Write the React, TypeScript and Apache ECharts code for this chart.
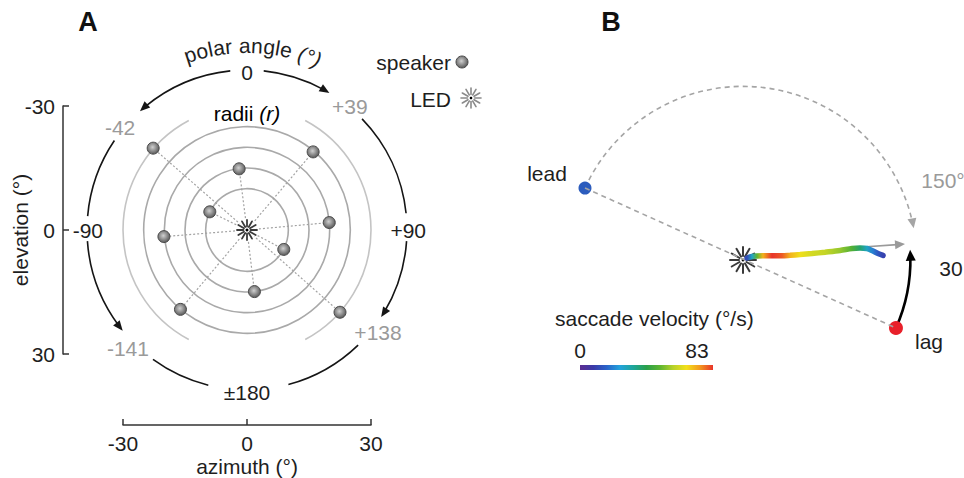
import React, { useEffect, useRef } from 'react';
import * as echarts from 'echarts';

const FONT = '"Liberation Sans", Arial, Helvetica, sans-serif';
const FS = 21;
const INK = '#1e1e1e';
const GRAY_TXT = '#9a9a9a';

// ---------- Panel A data (azimuth / elevation, degrees) ----------
const AXIS_MIN = -30;
const AXIS_MAX = 30;
const AXIS_INTERVAL = 30;
const RING_RADII = [10, 15, 20, 25];
const OUTER_RING_RADIUS = 30;
const OUTER_RING_FROM = [28, 208];
const OUTER_RING_TO = [152, 332];
const SPEAKER_AZ = [-22.7, 16.0, -1.9, -9.0, 19.9, -20.1, 8.9, 1.8, -16.1, 22.5];
const SPEAKER_EL = [-19.8, -18.9, -14.8, -4.4, -1.8, 1.6, 4.7, 14.9, 19.2, 19.9];
const LED_A = [0, 0];

const POLAR_LABELS = ['0', '+39', '+90', '+138', '±180', '-141', '-90', '-42'];
const POLAR_LABEL_AZ = [0, 24.9, 39.0, 31.7, 0, -28.8, -38.5, -30.7];
const POLAR_LABEL_EL = [-38.0, -29.8, 0, 24.9, 39.4, 28.6, 0, -24.7];
const POLAR_LABEL_GRAY = [false, true, false, true, false, true, false, true];

const POLAR_ARC_RADIUS = 38.7;
const POLAR_ARC_FROM = [-6, 6, 46, -56, -94, 94, -144, 136];
const POLAR_ARC_TO = [-42, 31, 84, -85, -129, 123, -166, 165];
const POLAR_ARC_ARROW = [1, 1, 0, 0, 1, 1, 0, 0];

// ---------- Panel B data ----------
const LED_B = [0, 0];
const LEAD = [-18.81, 8.57];
const LAG = [18.21, -8.1];
const LEAD_SWEEP = -145; // degrees, counter-clockwise positive
const LAG_SWEEP = 27.5;
const SACCADE_ARROW = [14.29, 1.55, 19.29, 1.9];
const TRAJ_X = [0.48, 1.07, 1.67, 2.38, 3.45, 4.64, 5.6, 6.79, 8.21, 9.76, 11.55, 12.98, 13.93, 14.76, 15.48, 16.07, 16.67];
const TRAJ_Y = [0.24, 0.42, 0.48, 0.5, 0.5, 0.5, 0.56, 0.65, 0.77, 0.93, 1.13, 1.37, 1.43, 1.37, 1.07, 0.77, 0.54];
const TRAJ_VEL = [12, 28, 50, 72, 83, 80, 72, 66, 62, 60, 55, 48, 38, 28, 20, 14, 10];
const VEL_MIN = 0;
const VEL_MAX = 83;
const RAINBOW = ['#5c2d91', '#3a3aa8', '#2a63c9', '#23a3dc', '#1ea69a', '#2aa04a', '#5cb531', '#b7d22a', '#f3e01a', '#f39a1e', '#e8342a'];

function hexToRgb(h: string) {
  const n = parseInt(h.slice(1), 16);
  return [(n >> 16) & 255, (n >> 8) & 255, n & 255];
}
function rainbowAt(v: number) {
  const t = Math.max(0, Math.min(1, (v - VEL_MIN) / (VEL_MAX - VEL_MIN)));
  const p = t * (RAINBOW.length - 1);
  const i = Math.min(Math.floor(p), RAINBOW.length - 2);
  const f = p - i;
  const a = hexToRgb(RAINBOW[i]);
  const b = hexToRgb(RAINBOW[i + 1]);
  const c = a.map((x, k) => Math.round(x + (b[k] - x) * f));
  return `rgb(${c[0]},${c[1]},${c[2]})`;
}

function ballGradient() {
  return {
    type: 'radial', x: 0.45, y: 0.42, r: 0.6,
    colorStops: [
      { offset: 0, color: '#d0d0d0' },
      { offset: 0.5, color: '#929292' },
      { offset: 1, color: '#555555' },
    ],
  };
}

function starChildren(cx: number, cy: number, rIn: number, rOut: number, color: string, lw: number, dot: number) {
  const ch: any[] = [];
  for (let k = 0; k < 12; k++) {
    const a = (k * Math.PI) / 6;
    ch.push({
      type: 'line',
      shape: { x1: cx + rIn * Math.cos(a), y1: cy + rIn * Math.sin(a), x2: cx + rOut * Math.cos(a), y2: cy + rOut * Math.sin(a) },
      style: { stroke: color, lineWidth: lw, lineCap: 'round' },
    });
  }
  ch.push({ type: 'circle', shape: { cx, cy, r: dot }, style: { fill: '#000' } });
  return ch;
}

function arcWithArrow(cx: number, cy: number, r: number, a1: number, a2: number, color: string, lw: number, dash: number[] | null, arrow: { len: number; w: number } | null) {
  const cw = a2 > a1;
  const ch: any[] = [];
  let aEnd = a2;
  if (arrow) aEnd = a2 + (cw ? -1 : 1) * (arrow.len * 0.6) / r;
  ch.push({
    type: 'arc',
    shape: { cx, cy, r, startAngle: a1, endAngle: aEnd, clockwise: cw },
    style: { stroke: color, lineWidth: lw, fill: null, lineDash: dash || undefined },
  });
  if (arrow) {
    const tx = cx + r * Math.cos(a2);
    const ty = cy + r * Math.sin(a2);
    let dx = -Math.sin(a2);
    let dy = Math.cos(a2);
    if (!cw) { dx = -dx; dy = -dy; }
    const bx = tx - dx * arrow.len;
    const by = ty - dy * arrow.len;
    const nx = -dy;
    const ny = dx;
    ch.push({
      type: 'polygon',
      shape: { points: [[tx, ty], [bx + nx * arrow.w, by + ny * arrow.w], [bx - nx * arrow.w, by - ny * arrow.w]] },
      style: { fill: color },
    });
  }
  return ch;
}

function curvedText(cx: number, cy: number, R: number, centerDeg: number, parts: { text: string; italic: boolean }[], size: number, color: string) {
  const ctx = document.createElement('canvas').getContext('2d') as CanvasRenderingContext2D;
  const chars: { ch: string; italic: boolean; w: number }[] = [];
  parts.forEach((p) => {
    ctx.font = `${p.italic ? 'italic ' : ''}${size}px ${FONT}`;
    for (const ch of p.text) chars.push({ ch, italic: p.italic, w: ctx.measureText(ch).width });
  });
  const total = chars.reduce((s, c) => s + c.w, 0);
  let s = -total / 2;
  return chars.map((c) => {
    const mid = s + c.w / 2;
    s += c.w;
    const phi = (centerDeg * Math.PI) / 180 + mid / R;
    return {
      type: 'text',
      x: cx + R * Math.sin(phi),
      y: cy - R * Math.cos(phi),
      rotation: -phi,
      style: { text: c.ch, fontSize: size, fontFamily: FONT, fontStyle: c.italic ? 'italic' : 'normal', fill: color, align: 'center', verticalAlign: 'bottom' },
    };
  });
}

function txt(x: number, y: number, text: string, opts: any = {}) {
  return {
    type: 'text', x, y,
    style: { text, fontSize: FS, fontFamily: FONT, fill: INK, align: 'center', verticalAlign: 'middle', ...opts },
  };
}

export default function App() {
  const ref = useRef<HTMLDivElement>(null);
  useEffect(() => {
    if (!ref.current) return;
    const chart = echarts.init(ref.current, null, { renderer: 'svg' });

    const axisCommon = {
      type: 'value', min: AXIS_MIN, max: AXIS_MAX, interval: AXIS_INTERVAL,
      axisLine: { show: true, onZero: false, lineStyle: { color: '#333', width: 1.5 } },
      axisTick: { show: true, inside: true, length: 6, lineStyle: { color: '#333', width: 1.5 } },
      axisLabel: { fontSize: FS, color: INK, margin: 8, fontFamily: FONT },
      splitLine: { show: false },
      nameLocation: 'middle',
      nameMoveOverlap: false,
      nameTextStyle: { fontSize: FS, color: INK, fontFamily: FONT },
    };

    const trajMinX = Math.min(...TRAJ_X);
    const trajMaxX = Math.max(...TRAJ_X);
    const trajGradient = {
      type: 'linear', x: 0, y: 0, x2: 1, y2: 0,
      colorStops: TRAJ_X.map((x, i) => ({ offset: (x - trajMinX) / (trajMaxX - trajMinX), color: rainbowAt(TRAJ_VEL[i]) })),
    };

    const cA = [247, 230];

    const option: any = {
      animation: false,
      backgroundColor: '#fff',
      textStyle: { fontFamily: FONT },
      grid: [
        { left: 123, top: 106, width: 248, height: 248, outerBoundsMode: 'none', containLabel: false },
        { left: 533, top: 50, width: 420, height: 420, outerBoundsMode: 'none', containLabel: false },
      ],
      xAxis: [
        { ...axisCommon, gridIndex: 0, position: 'bottom', offset: 71, name: 'azimuth (°)', nameGap: 31 },
        { type: 'value', gridIndex: 1, min: -25, max: 25, show: false },
      ],
      yAxis: [
        { ...axisCommon, gridIndex: 0, position: 'left', inverse: true, offset: 60, name: 'elevation (°)', nameGap: 32, nameRotate: 90 },
        { type: 'value', gridIndex: 1, min: -25, max: 25, show: false },
      ],
      series: [
        // rings
        {
          type: 'custom', xAxisIndex: 0, yAxisIndex: 0, silent: true,
          data: RING_RADII.map((r) => [r, 0]),
          renderItem: (_p: any, api: any) => {
            const c = api.coord(LED_A);
            const r = api.size([api.value(0), 0])[0];
            return { type: 'circle', shape: { cx: c[0], cy: c[1], r }, style: { fill: null, stroke: '#a9a9a9', lineWidth: 1.6 } };
          },
        },
        // outer partial ring
        {
          type: 'custom', xAxisIndex: 0, yAxisIndex: 0, silent: true,
          data: OUTER_RING_FROM.map((f, i) => [f, OUTER_RING_TO[i]]),
          renderItem: (_p: any, api: any) => {
            const c = api.coord(LED_A);
            const r = api.size([OUTER_RING_RADIUS, 0])[0];
            const a1 = ((api.value(0) - 90) * Math.PI) / 180;
            const a2 = ((api.value(1) - 90) * Math.PI) / 180;
            return { type: 'arc', shape: { cx: c[0], cy: c[1], r, startAngle: a1, endAngle: a2, clockwise: true }, style: { fill: null, stroke: '#c4c4c4', lineWidth: 1.6 } };
          },
        },
        // dotted spokes
        {
          type: 'custom', xAxisIndex: 0, yAxisIndex: 0, silent: true,
          data: SPEAKER_AZ.map((x, i) => [x, SPEAKER_EL[i]]),
          renderItem: (_p: any, api: any) => {
            const c = api.coord(LED_A);
            const p = api.coord([api.value(0), api.value(1)]);
            return { type: 'line', shape: { x1: c[0], y1: c[1], x2: p[0], y2: p[1] }, style: { stroke: '#a3a3a3', lineWidth: 1.2, lineDash: [2, 2] } };
          },
        },
        // polar angle arrows
        {
          type: 'custom', xAxisIndex: 0, yAxisIndex: 0, silent: true,
          data: POLAR_ARC_FROM.map((f, i) => [f, POLAR_ARC_TO[i], POLAR_ARC_ARROW[i]]),
          renderItem: (_p: any, api: any) => {
            const c = api.coord(LED_A);
            const r = api.size([POLAR_ARC_RADIUS, 0])[0];
            const a1 = ((api.value(0) - 90) * Math.PI) / 180;
            const a2 = ((api.value(1) - 90) * Math.PI) / 180;
            return { type: 'group', children: arcWithArrow(c[0], c[1], r, a1, a2, '#151515', 1.6, null, api.value(2) ? { len: 10, w: 4.2 } : null) };
          },
        },
        // polar angle labels
        {
          type: 'custom', xAxisIndex: 0, yAxisIndex: 0, silent: true,
          data: POLAR_LABELS.map((_t, i) => [POLAR_LABEL_AZ[i], POLAR_LABEL_EL[i], i]),
          renderItem: (_p: any, api: any) => {
            const p = api.coord([api.value(0), api.value(1)]);
            const i = api.value(2);
            return {
              type: 'text', x: p[0], y: p[1],
              style: { text: POLAR_LABELS[i], fontSize: FS, fontFamily: FONT, fill: POLAR_LABEL_GRAY[i] ? GRAY_TXT : INK, align: 'center', verticalAlign: 'middle' },
            };
          },
        },
        // speakers
        {
          type: 'scatter', xAxisIndex: 0, yAxisIndex: 0, symbol: 'circle', symbolSize: 12, silent: true,
          itemStyle: { color: ballGradient(), borderColor: '#4a4a4a', borderWidth: 1, opacity: 1 },
          data: SPEAKER_AZ.map((x, i) => [x, SPEAKER_EL[i]]),
        },
        // LED at fixation (A)
        {
          type: 'custom', xAxisIndex: 0, yAxisIndex: 0, silent: true,
          data: [LED_A],
          renderItem: (_p: any, api: any) => {
            const c = api.coord([api.value(0), api.value(1)]);
            return { type: 'group', children: [{ type: 'circle', shape: { cx: c[0], cy: c[1], r: 10 }, style: { fill: '#fff' } }, ...starChildren(c[0], c[1], 3.5, 10, '#3a3a3a', 1.8, 1.5)] };
          },
        },
        // ---------- Panel B ----------
        {
          type: 'line', xAxisIndex: 1, yAxisIndex: 1, symbol: 'none', silent: true,
          data: [LEAD, LAG],
          lineStyle: { color: '#a5a5a5', width: 1.6, type: [5, 4] },
        },
        {
          type: 'custom', xAxisIndex: 1, yAxisIndex: 1, silent: true,
          data: [[LEAD[0], LEAD[1], LEAD_SWEEP, 0], [LAG[0], LAG[1], LAG_SWEEP, 1]],
          renderItem: (_p: any, api: any) => {
            const c = api.coord(LED_B);
            const p = api.coord([api.value(0), api.value(1)]);
            const r = Math.hypot(p[0] - c[0], p[1] - c[1]);
            const a1 = Math.atan2(p[1] - c[1], p[0] - c[0]);
            const a2 = a1 - (api.value(2) * Math.PI) / 180;
            const black = api.value(3) === 1;
            return {
              type: 'group',
              children: black
                ? arcWithArrow(c[0], c[1], r, a1, a2, '#000', 2.6, null, { len: 11, w: 5 })
                : arcWithArrow(c[0], c[1], r, a1, a2, '#a5a5a5', 1.6, [5, 4], { len: 10, w: 4.5 }),
            };
          },
        },
        {
          type: 'custom', xAxisIndex: 1, yAxisIndex: 1, silent: true,
          data: [SACCADE_ARROW],
          renderItem: (_p: any, api: any) => {
            const a = api.coord([api.value(0), api.value(1)]);
            const b = api.coord([api.value(2), api.value(3)]);
            const L = Math.hypot(b[0] - a[0], b[1] - a[1]);
            const dx = (b[0] - a[0]) / L;
            const dy = (b[1] - a[1]) / L;
            const len = 10, w = 4.5;
            const bx = b[0] - dx * len, by = b[1] - dy * len;
            return {
              type: 'group',
              children: [
                { type: 'line', shape: { x1: a[0], y1: a[1], x2: bx + dx * 2, y2: by + dy * 2 }, style: { stroke: '#9a9a9a', lineWidth: 1.6 } },
                { type: 'polygon', shape: { points: [[b[0], b[1]], [bx - dy * w, by + dx * w], [bx + dy * w, by - dx * w]] }, style: { fill: '#9a9a9a' } },
              ],
            };
          },
        },
        {
          type: 'custom', xAxisIndex: 1, yAxisIndex: 1, silent: true,
          data: [LED_B],
          renderItem: (_p: any, api: any) => {
            const c = api.coord([api.value(0), api.value(1)]);
            return { type: 'group', children: starChildren(c[0], c[1], 4, 13, '#3a3a3a', 2, 1.4) };
          },
        },
        {
          type: 'line', xAxisIndex: 1, yAxisIndex: 1, symbol: 'none', silent: true, smooth: 0.3,
          data: TRAJ_X.map((x, i) => [x, TRAJ_Y[i], TRAJ_VEL[i]]),
          lineStyle: { width: 5.5, color: trajGradient, cap: 'round' },
        },
        {
          type: 'scatter', xAxisIndex: 1, yAxisIndex: 1, symbolSize: 13, silent: true,
          itemStyle: { color: '#2c5cbd', opacity: 1 },
          data: [LEAD],
        },
        {
          type: 'scatter', xAxisIndex: 1, yAxisIndex: 1, symbolSize: 14, silent: true,
          itemStyle: { color: '#e8202a', opacity: 1 },
          data: [LAG],
        },
      ],
      graphic: [
        txt(88, 22, 'A', { fontSize: 27, fontWeight: 'bold', fill: '#111' }),
        txt(611, 22, 'B', { fontSize: 27, fontWeight: 'bold', fill: '#111' }),
        ...curvedText(cA[0], cA[1], 174, 1.8, [{ text: 'polar angle ', italic: false }, { text: '(°)', italic: true }], FS, INK),
        {
          type: 'text', x: 247, y: 113,
          style: {
            text: '{n|radii }{i|(r)}', align: 'center', verticalAlign: 'middle',
            rich: { n: { fontSize: FS, fontFamily: FONT, color: INK }, i: { fontSize: FS, fontFamily: FONT, fontStyle: 'italic', color: INK } },
          },
        },
        txt(451, 62, 'speaker', { align: 'right' }),
        { type: 'circle', shape: { cx: 462, cy: 62, r: 6 }, style: { fill: ballGradient(), stroke: '#4a4a4a', lineWidth: 1 } },
        txt(451, 99, 'LED', { align: 'right' }),
        { type: 'group', children: starChildren(471, 98, 3.5, 10, '#8a8a8a', 1.6, 1.3) },
        txt(547, 173, 'lead'),
        txt(929, 341, 'lag'),
        txt(943, 180, '150°', { fill: GRAY_TXT }),
        txt(951, 268, '30'),
        txt(555, 318, 'saccade velocity (°/s)', { align: 'left' }),
        txt(580, 350, '0'),
        txt(697, 350, '83'),
        {
          type: 'rect', shape: { x: 580, y: 365, width: 133, height: 5 },
          style: {
            fill: {
              type: 'linear', x: 0, y: 0, x2: 1, y2: 0,
              colorStops: RAINBOW.map((c, i) => ({ offset: i / (RAINBOW.length - 1), color: c })),
            },
          },
        },
      ],
    };

    chart.setOption(option);
    return () => chart.dispose();
  }, []);

  return <div ref={ref} style={{ position: 'fixed', left: 0, top: 0, width: 964, height: 478, background: '#fff' }} />;
}
